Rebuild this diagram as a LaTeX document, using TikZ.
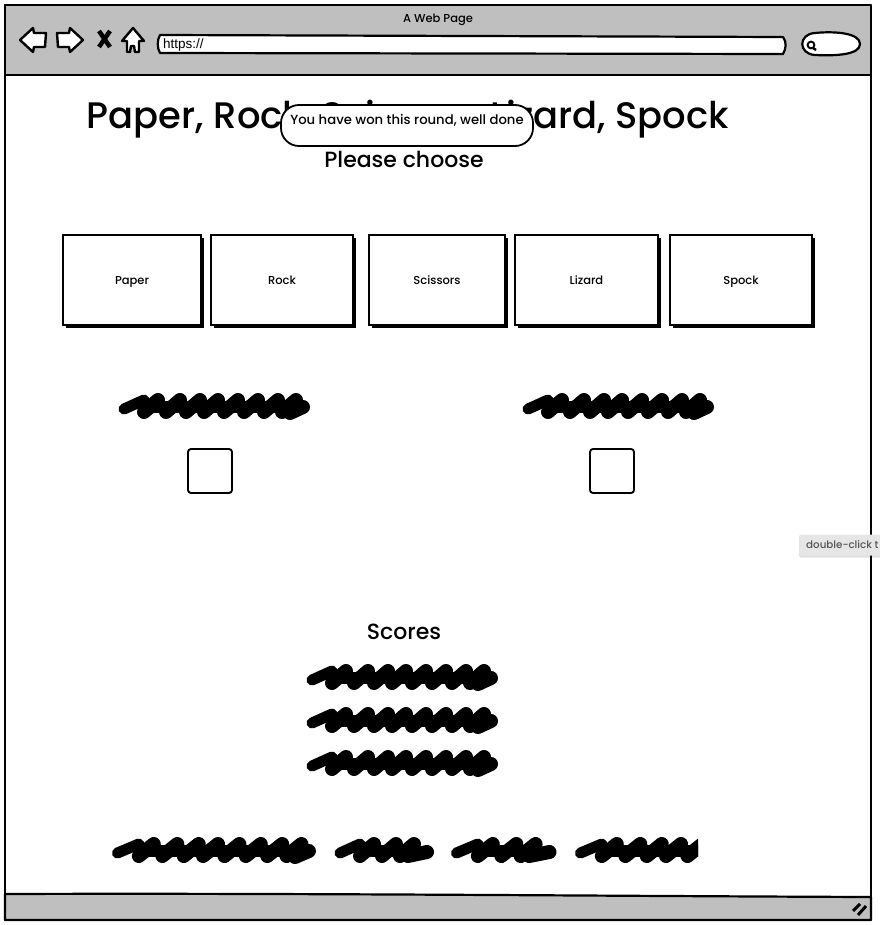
\documentclass[tikz,border=0pt]{standalone}
\usepackage{fontspec}
\setmainfont{Poppins Medium}
\newfontfamily\urlfont{Liberation Sans}
\usetikzlibrary{positioning, calc, shadows}
\definecolor{chromegray}{HTML}{BFBFBF}
\definecolor{tipgray}{HTML}{E6E6E6}
\definecolor{tiptext}{HTML}{555555}
\tikzset{
  sketch/.style={draw=black, line width=2.2pt, line join=round},
  icon/.style={sketch, fill=white, line width=2.4pt},
  cardbox/.style={draw=black, line width=2pt, fill=white, minimum height=90pt, text height=9pt, text depth=1pt, font=\fontsize{11.5}{14}\selectfont,
    drop shadow={shadow xshift=3pt, shadow yshift=-3pt, fill=black, opacity=1}},
  tickbox/.style={draw=black, line width=1.9pt, fill=white, rounded corners=3pt, minimum size=44pt},
  stroke/.style={line width=14pt, line cap=round},
  scribble/.pic={
    \draw[line width=11pt, line cap=round] (6,3) -- (26,-6);
    \foreach \peakx in {40,62,82,100,120,140,160,178}
      \draw[stroke] (\peakx-14,6) -- (\peakx,-6);
    \draw[stroke] (172,7) -- (185,1);
    \draw[line width=12pt] (24,1) -- (178,1);
  },
  shortscribble/.pic={
    \draw[line width=11pt, line cap=round] (6,3) -- (26,-6);
    \foreach \peakx in {40,62,80}
      \draw[stroke] (\peakx-14,6) -- (\peakx,-6);
    \draw[stroke] (74,6) -- (93,2);
    \draw[line width=12pt] (24,1) -- (80,1);
  }
}

\begin{document}
\begin{tikzpicture}[x=1pt, y=-1pt]
  \useasboundingbox (0,0) rectangle (879,925);

  % Browser window
  \draw[sketch, fill=white] (5,5) rectangle (871,920);
  \draw[sketch, fill=chromegray] (5,5) -- (871,5) -- (871,75) -- (5,75) -- cycle;
  \draw[sketch, fill=chromegray] (5,894) .. controls (300,893) and (600,896) .. (871,897) -- (871,920) -- (5,920) -- cycle;
  \node (pagename) at (438,20) {\fontsize{11.5}{14}\selectfont A Web Page};

  % Navigation icons
  \draw[icon] (20,40) -- (33,28) -- (34,33) -- (46,33) -- (45,47) -- (34,47) -- (33,52) -- cycle;
  \draw[icon] (83,40) -- (70,28) -- (69,33) -- (57,33) -- (58,47) -- (69,47) -- (70,52) -- cycle;
  \draw[line width=4.5pt] (99,31) -- (110,47) (110,31) -- (99,47);
  \draw[icon] (133,28) -- (144,41) -- (139,41) -- (139,52) -- (135,52) -- (134,46) -- (131,46) -- (130,52) -- (127,52) -- (127,41) -- (122,41) -- cycle;

  % Address bar and search
  \draw[sketch, fill=white] (160,35) -- (783,37) .. controls (787,42) and (786,49) .. (783,54) -- (160,53) .. controls (157,48) and (157,40) .. (160,35) -- cycle;
  \node[anchor=west, inner sep=0pt] (urltext) at (163,45) {\urlfont\fontsize{13.5}{15}\selectfont https://};
  \draw[sketch, fill=white] (815,33) .. controls (835,31) and (860,33) .. (860,44) .. controls (860,55) and (835,56) .. (815,55) .. controls (798,54) and (798,34) .. (815,33) -- cycle;
  \draw[line width=1.9pt] (811,45) circle (3.4pt);
  \draw[line width=2.4pt] (813,48) -- (816,50);

  % Resize grip
  \draw[line width=3pt] (853,911) -- (860,904) (858,915) -- (866,906);

  % Heading
  \node (heading) at (408,119) {\fontsize{36.9}{44}\selectfont Paper, Rock, Scissors, Lizard, Spock};
  \node (choose) at (404,159) {\fontsize{22}{26}\selectfont Please choose};
  \node[draw=black, line width=1.8pt, fill=white, rounded corners=18pt, minimum width=252pt, minimum height=41pt, inner sep=0pt] (wonmsg) at (407,125.5) {};
  \node (wontext) at (407,120.5) {\fontsize{13.2}{15}\selectfont You have won this round, well done};

  % Choice cards
  \node[cardbox, minimum width=138pt] (paper) at (132,280) {Paper};
  \node[cardbox, minimum width=142pt] (rock) at (282,280) {Rock};
  \node[cardbox, minimum width=136pt] (scissors) at (437,280) {Scissors};
  \node[cardbox, minimum width=143pt] (lizard) at (586.5,280) {Lizard};
  \node[cardbox, minimum width=142pt] (spock) at (741,280) {Spock};

  % Player and computer
  \pic at (118,406) {scribble};
  \pic at (522,406) {scribble};
  \node[tickbox] (playerbox) at (210,471) {};
  \node[tickbox] (computerbox) at (612,471) {};

  % Scores
  \node (scores) at (404,632) {\fontsize{22}{26}\selectfont Scores};
  \foreach \scorey in {677,720,763}
    \pic at (306,\scorey) {scribble};

  % Last line
  \pic[xscale=1.07] at (111,850) {scribble};
  \pic at (334,850) {shortscribble};
  \pic[xscale=1.07] at (450,850) {shortscribble};
  \begin{scope}
    \clip (570,825) rectangle (698,875);
    \pic[xscale=1.07] at (574,850) {scribble};
  \end{scope}

  % Tooltip
  \node[fill=tipgray, rounded corners=1.5pt, minimum height=21pt, minimum width=90pt, anchor=west, inner sep=0pt,
    drop shadow={shadow xshift=0pt, shadow yshift=-2pt, fill=black, opacity=0.12}] (hint) at (799,545) {};
  \node[anchor=west, inner sep=0pt, text=tiptext] (hinttext) at (806,545) {\fontsize{10.3}{12}\selectfont double-click t};
\end{tikzpicture}
\end{document}
